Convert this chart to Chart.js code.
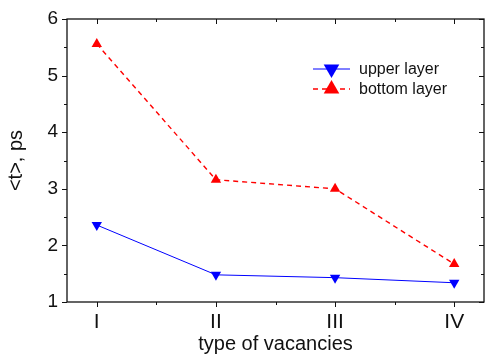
<!DOCTYPE html>
<html>
<head>
<meta charset="utf-8">
<script src="https://cdn.jsdelivr.net/npm/chart.js@4.4.0/dist/chart.umd.min.js"></script>
<style>
  html, body { margin: 0; padding: 0; background: #fff; overflow: hidden; }
  #wrap { width: 490px; height: 356px; position: relative; }
</style>
</head>
<body>
<div id="wrap"><canvas id="myChart"></canvas></div>
<script>
// vacancy types along x, mean time <t> in ps for each layer
const categories = ['I', 'II', 'III', 'IV'];
const upperLayer = [2.36, 1.48, 1.43, 1.34];
const bottomLayer = [5.56, 3.16, 3.0, 1.67];
const yTicks = [1, 2, 3, 4, 5, 6];

const FONT = 'Arial, "Liberation Sans", sans-serif';
const INK = '#111';

function toPoints(vals) {
  return vals.map((v, i) => ({x: i + 1, y: v}));
}

function triangle(ctx, x, y, r, down) {
  const s = down ? -1 : 1;
  ctx.beginPath();
  ctx.moveTo(x, y - s * r);
  ctx.lineTo(x + r * 0.866, y + s * r * 0.5);
  ctx.lineTo(x - r * 0.866, y + s * r * 0.5);
  ctx.closePath();
  ctx.fill();
}

// box around the plot with major/minor ticks on every side
const framePlugin = {
  id: 'frame',
  afterDraw(chart) {
    const ctx = chart.ctx;
    const {left, right, top, bottom} = chart.chartArea;
    const xs = chart.scales.x, ys = chart.scales.y;
    ctx.save();
    ctx.strokeStyle = INK;
    ctx.lineWidth = 1.3;
    ctx.strokeRect(left, top, right - left, bottom - top);
    ctx.lineWidth = 1;
    ctx.beginPath();
    for (let i = 0; i < categories.length; i++) {
      for (const [v, len] of [[i + 1, 5], [i + 1.5, 3]]) {
        if (v > xs.max) continue;
        const px = Math.round(xs.getPixelForValue(v)) + 0.5;
        ctx.moveTo(px, bottom); ctx.lineTo(px, bottom + len);
        ctx.moveTo(px, top); ctx.lineTo(px, top + len);
      }
    }
    for (let i = 0; i < yTicks.length; i++) {
      for (const [v, len] of [[yTicks[i], 5], [yTicks[i] + 0.5, 3]]) {
        if (v > ys.max) continue;
        const py = Math.round(ys.getPixelForValue(v)) + 0.5;
        ctx.moveTo(left, py); ctx.lineTo(left - len, py);
        ctx.moveTo(right, py); ctx.lineTo(right - len, py);
      }
    }
    ctx.stroke();
    ctx.restore();
  }
};

// legend sitting inside the plot, line + marker + label
const legendPlugin = {
  id: 'insideLegend',
  afterDraw(chart) {
    const ctx = chart.ctx;
    const rows = [69, 89];
    ctx.save();
    chart.data.datasets.forEach((ds, i) => {
      const y = rows[i];
      ctx.strokeStyle = ds.borderColor;
      ctx.lineWidth = ds.borderWidth;
      ctx.setLineDash(ds.borderDash || []);
      ctx.beginPath();
      ctx.moveTo(313, y);
      ctx.lineTo(350, y);
      ctx.stroke();
      ctx.setLineDash([]);
      ctx.fillStyle = ds.pointBackgroundColor;
      triangle(ctx, 331.5, y, 9, ds.pointRotation === 180);
      ctx.fillStyle = INK;
      ctx.font = '16px ' + FONT;
      ctx.textBaseline = 'middle';
      ctx.textAlign = 'left';
      ctx.fillText(ds.label, 359, y + 1);
    });
    ctx.restore();
  }
};

const ctx = document.getElementById('myChart').getContext('2d');
const myChart = new Chart(ctx, {
  type: 'line',
  data: {
    datasets: [{
      label: 'upper layer',
      data: toPoints(upperLayer),
      borderColor: '#0000ff',
      borderWidth: 1,
      pointStyle: 'triangle',
      pointRotation: 180,
      pointRadius: 6,
      pointBorderWidth: 0,
      pointBackgroundColor: '#0000ff'
    },
    {
      label: 'bottom layer',
      data: toPoints(bottomLayer),
      borderColor: '#ff0000',
      borderWidth: 1.4,
      borderDash: [5, 4],
      pointStyle: 'triangle',
      pointRotation: 0,
      pointRadius: 6,
      pointBorderWidth: 0,
      pointBackgroundColor: '#ff0000'
    }]
  },
  options: {
    responsive: true,
    maintainAspectRatio: false,
    animation: false,
    layout: {padding: {top: 19, right: 3, left: 0, bottom: 0}},
    scales: {
      x: {
        type: 'linear',
        min: 0.75,
        max: 4.25,
        afterBuildTicks: s => { s.ticks = categories.map((c, i) => ({value: i + 1})); },
        afterFit: s => { s.height = 54; },
        grid: {display: false, drawTicks: true, tickLength: 5},
        border: {display: false},
        ticks: {
          color: INK,
          padding: 3,
          maxRotation: 0,
          font: {family: FONT, size: 21},
          callback: v => categories[v - 1]
        },
        title: {
          display: true,
          text: 'type of vacancies',
          color: INK,
          padding: {top: 0, bottom: 0},
          font: {family: FONT, size: 20}
        }
      },
      y: {
        min: 1,
        max: 6,
        afterBuildTicks: s => { s.ticks = yTicks.map(v => ({value: v})); },
        afterFit: s => { s.width = 67; },
        grid: {display: false, drawTicks: true, tickLength: 5},
        border: {display: false},
        ticks: {
          color: INK,
          padding: 4,
          font: {family: FONT, size: 19}
        },
        title: {
          display: true,
          text: '<t>, ps',
          color: INK,
          padding: {top: 4, bottom: 0},
          font: {family: FONT, size: 20}
        }
      }
    },
    plugins: {
      legend: {display: false},
      tooltip: {enabled: false}
    }
  },
  plugins: [framePlugin, legendPlugin]
});
</script>
</body>
</html>
